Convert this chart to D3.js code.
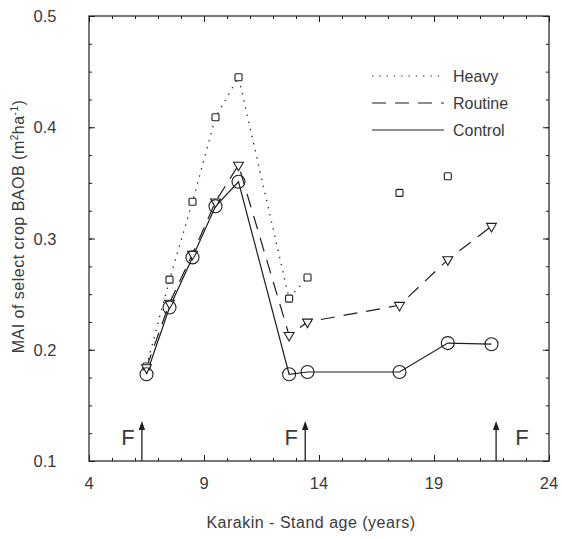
<!DOCTYPE html>
<html>
<head>
<meta charset="utf-8">
<script src="https://cdn.jsdelivr.net/npm/d3@7"></script>
<style>
  body { margin: 0; background: #fff; }
  text { font-family: "Liberation Sans", Arial, sans-serif; fill: #3a3a3a; }
</style>
</head>
<body>
<svg id="chart"></svg>
<script>
// stand ages (years) and MAI values
let controlAge = [6.5, 7.5, 8.5, 9.5, 10.5, 12.7, 13.5, 17.5, 19.6, 21.5];
let controlVal = [0.178, 0.238, 0.283, 0.329, 0.351, 0.178, 0.180, 0.180, 0.206, 0.205];

let routineAge = [6.5, 7.5, 8.5, 9.5, 10.5, 12.7, 13.5, 17.5, 19.6, 21.5];
let routineVal = [0.184, 0.242, 0.286, 0.333, 0.366, 0.213, 0.225, 0.240, 0.281, 0.311];

// heavy: the first seven points are joined by the dotted line, the last two are not
let heavyAge = [6.5, 7.5, 8.5, 9.5, 10.5, 12.7, 13.5, 17.5, 19.6];
let heavyVal = [0.185, 0.263, 0.333, 0.409, 0.445, 0.246, 0.265, 0.341, 0.356];
let heavyJoined = 7;

// thinning events (F)
let thinAge = [6.3, 13.4, 21.7];

let xTicks = [4, 9, 14, 19, 24];
let yTicks = [0.1, 0.2, 0.3, 0.4, 0.5];

let W = 562, H = 539;
let margin = {top: 16, right: 13, bottom: 78, left: 89},
    width = W - margin.left - margin.right,
    height = H - margin.top - margin.bottom;

let ink = "#1e1e1e";

let svg = d3.select("#chart")
    .attr("width", W)
    .attr("height", H)
    .append("g")
    .attr("transform", "translate(" + margin.left + "," + margin.top + ")");

let x = d3.scaleLinear().domain([4, 24]).range([0, width]);
let y = d3.scaleLinear().domain([0.1, 0.5]).range([height, 0]);

// frame
svg.append("rect")
    .attr("width", width)
    .attr("height", height)
    .attr("fill", "none")
    .attr("stroke", ink)
    .attr("stroke-width", 1.2);

// inward ticks on all four sides
let xMinor = d3.range(4, 24.01, 1);
let yMinor = d3.range(0.1, 0.5001, 0.025);

function tickAxis(axis, tickVals, size) {
    return axis.tickValues(tickVals).tickSize(size).tickFormat("");
}

svg.append("g").attr("transform", "translate(0," + height + ")")
    .call(tickAxis(d3.axisTop(x), xMinor, 3));
svg.append("g").attr("transform", "translate(0," + height + ")")
    .call(tickAxis(d3.axisTop(x), xTicks, 6));
svg.append("g")
    .call(tickAxis(d3.axisBottom(x), xMinor, 3));
svg.append("g")
    .call(tickAxis(d3.axisBottom(x), xTicks, 6));
svg.append("g")
    .call(tickAxis(d3.axisRight(y), yMinor, 3));
svg.append("g")
    .call(tickAxis(d3.axisRight(y), yTicks, 6));
svg.append("g").attr("transform", "translate(" + width + ",0)")
    .call(tickAxis(d3.axisLeft(y), yMinor, 3));
svg.append("g").attr("transform", "translate(" + width + ",0)")
    .call(tickAxis(d3.axisLeft(y), yTicks, 6));

svg.selectAll(".domain").remove();
svg.selectAll(".tick line").attr("stroke", ink).attr("stroke-width", 1);

// tick labels
svg.selectAll(".xlab").data(xTicks).enter()
    .append("text")
    .attr("x", d => x(d))
    .attr("y", height + 28)
    .attr("text-anchor", "middle")
    .style("font-size", "16.5px")
    .text(d => d);

svg.selectAll(".ylab").data(yTicks).enter()
    .append("text")
    .attr("x", -44)
    .attr("y", d => y(d) + 6)
    .attr("text-anchor", "middle")
    .style("font-size", "16.5px")
    .text(d => d3.format(".1f")(d));

// axis titles
svg.append("text")
    .attr("x", width / 2 - 8)
    .attr("y", height + 67)
    .attr("text-anchor", "middle")
    .style("font-size", "16px")
    .style("letter-spacing", "0.5px")
    .text("Karakin - Stand age (years)");

let yTitle = svg.append("text")
    .attr("transform", "translate(-65," + (height / 2 - 12) + ") rotate(-90)")
    .attr("text-anchor", "middle")
    .style("font-size", "16px")
    .style("letter-spacing", "0.5px");
yTitle.append("tspan").text("MAI of select crop BAOB (m");
yTitle.append("tspan").attr("dy", -6).style("font-size", "10px").text("2");
yTitle.append("tspan").attr("dy", 6).text("ha");
yTitle.append("tspan").attr("dy", -6).style("font-size", "10px").text("-1");
yTitle.append("tspan").attr("dy", 6).text(")");

// series
function pts(ages, vals) {
    return ages.map((a, i) => ({age: a, val: vals[i]}));
}
let control = pts(controlAge, controlVal);
let routine = pts(routineAge, routineVal);
let heavy = pts(heavyAge, heavyVal);

let line = d3.line().x(d => x(d.age)).y(d => y(d.val));

svg.append("path")
    .datum(heavy.slice(0, heavyJoined))
    .attr("d", line)
    .attr("fill", "none")
    .attr("stroke", ink)
    .attr("stroke-width", 1.3)
    .attr("stroke-dasharray", "1.3,6");

svg.append("path")
    .datum(routine)
    .attr("d", line)
    .attr("fill", "none")
    .attr("stroke", ink)
    .attr("stroke-width", 1.2)
    .attr("stroke-dasharray", "14,9");

svg.append("path")
    .datum(control)
    .attr("d", line)
    .attr("fill", "none")
    .attr("stroke", ink)
    .attr("stroke-width", 1.2);

// markers
svg.selectAll(".sq").data(heavy).enter()
    .append("rect")
    .attr("x", d => x(d.age) - 3.5)
    .attr("y", d => y(d.val) - 3.5)
    .attr("width", 7)
    .attr("height", 7)
    .attr("rx", 1)
    .attr("fill", "#fff")
    .attr("stroke", ink)
    .attr("stroke-width", 1.1);

let tri = d3.symbol().type(d3.symbolTriangle).size(42);
svg.selectAll(".tri").data(routine).enter()
    .append("path")
    .attr("d", tri)
    .attr("transform", d => "translate(" + x(d.age) + "," + y(d.val) + ") rotate(180)")
    .attr("fill", "#fff")
    .attr("stroke", ink)
    .attr("stroke-width", 1.1);

svg.selectAll(".circ").data(control).enter()
    .append("circle")
    .attr("cx", d => x(d.age))
    .attr("cy", d => y(d.val))
    .attr("r", 6.5)
    .attr("fill", "none")
    .attr("stroke", ink)
    .attr("stroke-width", 1.1);

// thinning arrows
svg.selectAll(".arrow").data(thinAge).enter()
    .append("line")
    .attr("x1", d => x(d))
    .attr("x2", d => x(d))
    .attr("y1", height)
    .attr("y2", height - 36)
    .attr("stroke", ink)
    .attr("stroke-width", 1.3);
svg.selectAll(".head").data(thinAge).enter()
    .append("path")
    .attr("d", d3.symbol().type(d3.symbolTriangle).size(28))
    .attr("transform", d => "translate(" + x(d) + "," + (height - 34) + ") scale(0.8,1.3)")
    .attr("fill", ink);
svg.selectAll(".flab").data(thinAge).enter()
    .append("text")
    .attr("x", (d, i) => i === thinAge.length - 1 ? x(d) + 26 : x(d) - 14)
    .attr("y", height - 16)
    .attr("text-anchor", "middle")
    .style("font-size", "22px")
    .text("F");

// legend
let legend = svg.append("g").attr("transform", "translate(283,0)");
let legendRows = [
    {name: "Heavy", dash: "1.3,6", yy: 60},
    {name: "Routine", dash: "14,9", yy: 87},
    {name: "Control", dash: null, yy: 114}
];
legendRows.forEach(function (r) {
    legend.append("line")
        .attr("x1", 0)
        .attr("x2", 72)
        .attr("y1", r.yy)
        .attr("y2", r.yy)
        .attr("stroke", ink)
        .attr("stroke-width", 1.1)
        .attr("stroke-dasharray", r.dash);
    legend.append("text")
        .attr("x", 81)
        .attr("y", r.yy + 6)
        .style("font-size", "16px")
        .text(r.name);
});
</script>
</body>
</html>
